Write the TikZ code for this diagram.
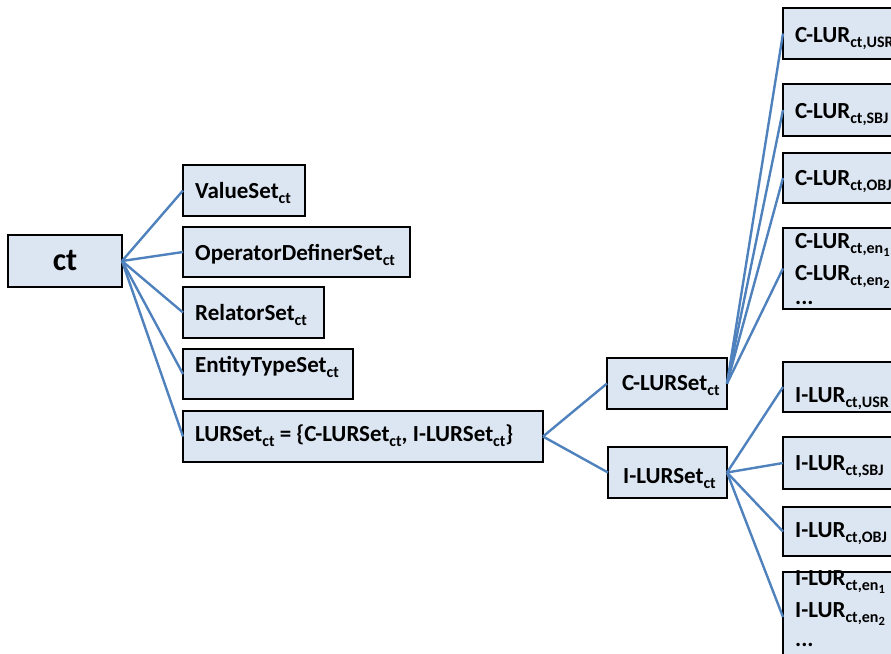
\documentclass[tikz,border=0pt]{standalone}
\usepackage{fontspec}
\setmainfont{Carlito}
\definecolor{boxfill}{HTML}{DCE6F2}
\definecolor{linkblue}{HTML}{4F81BD}
\newcommand\sbs[1]{\raisebox{-5.5pt}{\fontsize{16}{16}\selectfont #1}}
\newcommand\dg[1]{\raisebox{-2.5pt}{\fontsize{12.5}{12.5}\selectfont #1}}
\tikzset{
  box/.style={draw=black, line width=2.5pt, fill=boxfill, inner sep=0pt, outer sep=0pt, anchor=north west},
  lbl/.style={font=\bfseries\fontsize{23}{27}\selectfont, inner sep=0pt, anchor=base west},
  conn/.style={draw=linkblue, line width=2.4pt}
}
\begin{document}
\begin{tikzpicture}[x=1pt,y=-1pt]
\useasboundingbox (0,0) rectangle (891,653);
\clip (0,0) rectangle (891,653);
% boxes
\node[box, minimum width=114, minimum height=52] (ct) at (8,235) {};
\node[box, minimum width=122, minimum height=51] (vs) at (183,165) {};
\node[box, minimum width=227, minimum height=50] (od) at (183,227) {};
\node[box, minimum width=141, minimum height=51] (rs) at (183,287) {};
\node[box, minimum width=170, minimum height=50] (et) at (183,349) {};
\node[box, minimum width=360, minimum height=51] (lu) at (183,411) {};
\node[box, minimum width=120, minimum height=51] (cl) at (607,358) {};
\node[box, minimum width=119, minimum height=51] (il) at (608,447) {};
\node[box, minimum width=130, minimum height=51] (c1) at (783,8) {};
\node[box, minimum width=130, minimum height=52] (c2) at (783,84) {};
\node[box, minimum width=130, minimum height=50] (c3) at (783,153) {};
\node[box, minimum width=130, minimum height=81] (c4) at (783,228) {};
\node[box, minimum width=130, minimum height=50] (i1) at (783,362) {};
\node[box, minimum width=130, minimum height=52] (i2) at (783,437) {};
\node[box, minimum width=130, minimum height=49] (i3) at (783,507) {};
\node[box, minimum width=130, minimum height=90] (i4) at (783,572) {};
% labels
\node[font=\bfseries\fontsize{32}{35}\selectfont, inner sep=0pt] (tct) at (ct.center) {ct};
\node[lbl] (tvs) at (195,198) {ValueSet\sbs{ct}};
\node[lbl] (tod) at (195,260) {OperatorDefinerSet\sbs{ct}};
\node[lbl] (trs) at (195,320) {RelatorSet\sbs{ct}};
\node[lbl] (tet) at (195,372) {EntityTypeSet\sbs{ct}};
\node[lbl] (tlu) at (195,441) {LURSet\sbs{ct} = \{C-LURSet\sbs{ct}, I-LURSet\sbs{ct}\}};
\node[lbl] (tcl) at (622,390) {C-LURSet\sbs{ct}};
\node[lbl] (til) at (623,483) {I-LURSet\sbs{ct}};
\node[lbl] (tc1) at (795,42) {C-LUR\sbs{ct,USR}};
\node[lbl] (tc2) at (795,118) {C-LUR\sbs{ct,SBJ}};
\node[lbl] (tc3) at (795,185) {C-LUR\sbs{ct,OBJ}};
\node[lbl] (tc4a) at (795,248) {C-LUR\sbs{ct,en\dg{1}}};
\node[lbl] (tc4b) at (795,280) {C-LUR\sbs{ct,en\dg{2}}};
\node[lbl] (tc4c) at (795,304) {...};
\node[lbl] (ti1) at (795,402) {I-LUR\sbs{ct,USR}};
\node[lbl] (ti2) at (795,470) {I-LUR\sbs{ct,SBJ}};
\node[lbl] (ti3) at (795,537) {I-LUR\sbs{ct,OBJ}};
\node[lbl] (ti4a) at (795,585) {I-LUR\sbs{ct,en\dg{1}}};
\node[lbl] (ti4b) at (795,617) {I-LUR\sbs{ct,en\dg{2}}};
\node[lbl] (ti4c) at (795,646) {...};
% connectors
\foreach \t in {vs,od,rs,et,lu} \draw[conn] (ct.east) -- (\t.west);
\draw[conn] (lu.east) -- (cl.west);
\draw[conn] (lu.east) -- (il.west);
\foreach \t in {c1,c2,c3,c4} \draw[conn] (cl.east) -- (\t.west);
\foreach \t in {i1,i2,i3,i4} \draw[conn] (il.east) -- (\t.west);
\end{tikzpicture}
\end{document}
